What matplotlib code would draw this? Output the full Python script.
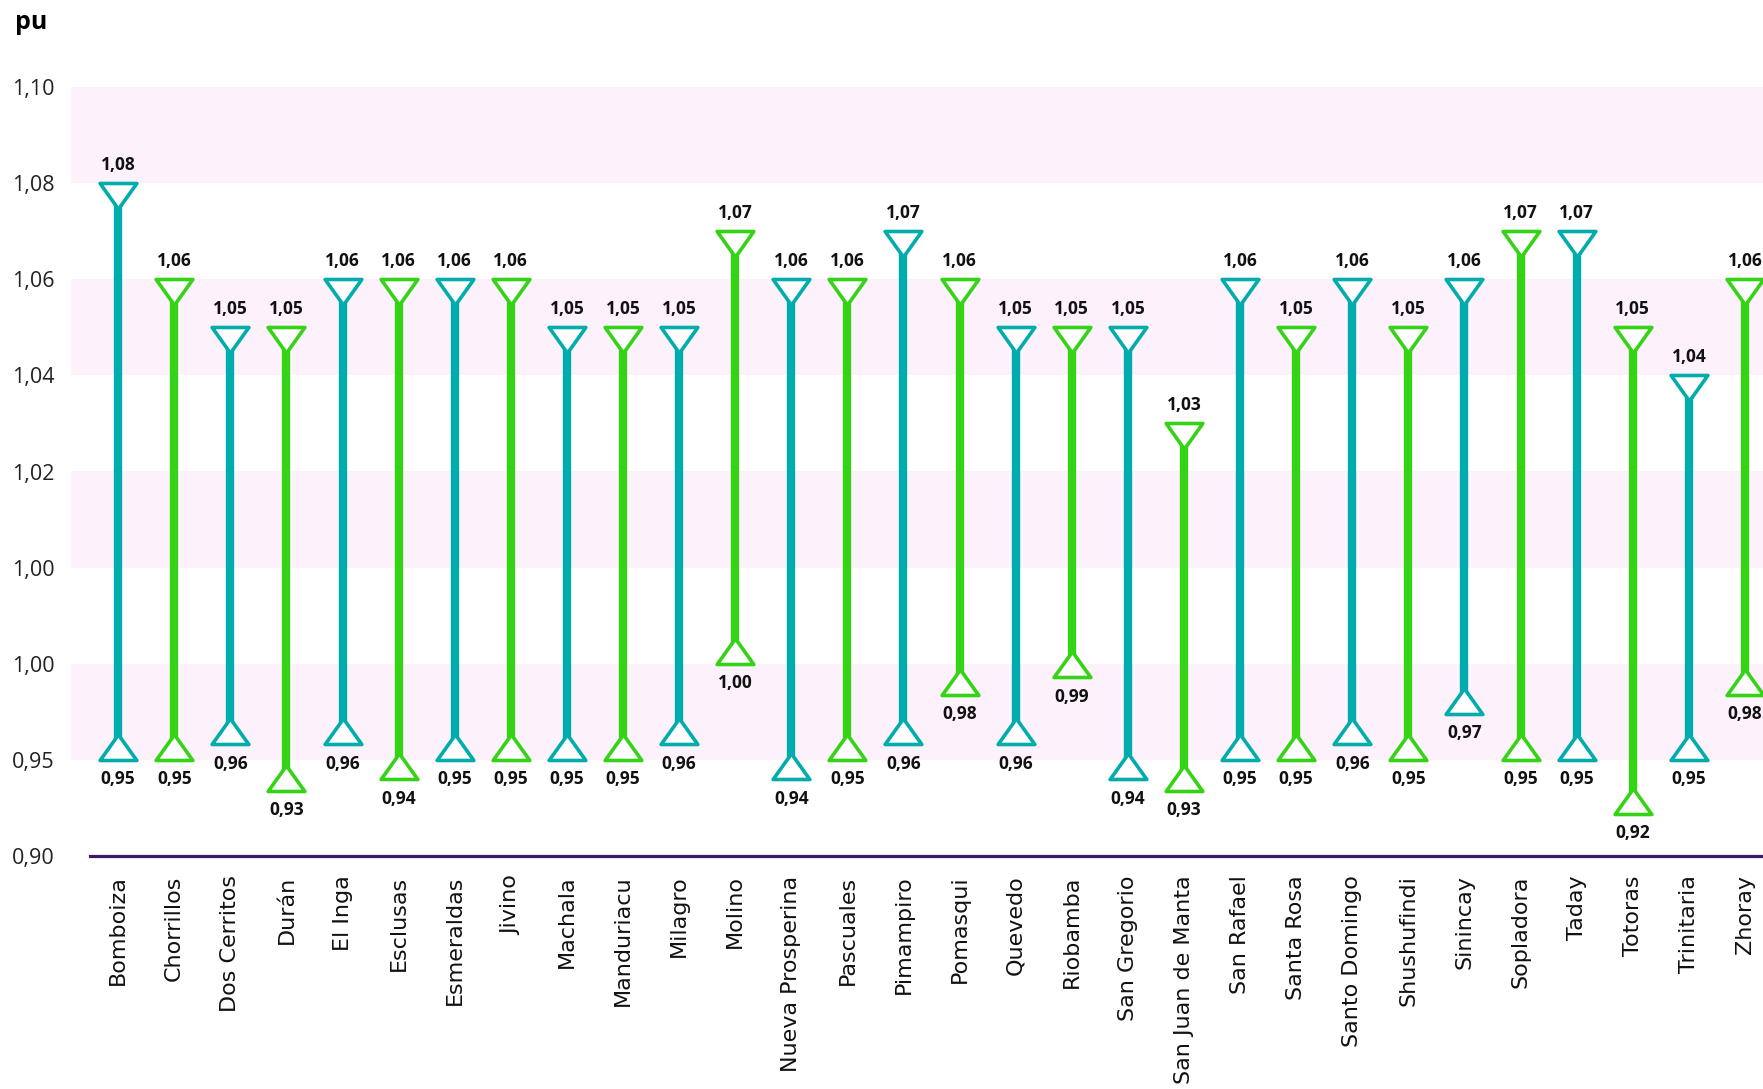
import numpy as np
import matplotlib
matplotlib.use('Agg')
import matplotlib.pyplot as plt
from matplotlib.path import Path
from matplotlib.ticker import FixedLocator, FuncFormatter

#================================================================================
# data
#================================================================================
stations = ['Bomboiza', 'Chorrillos', 'Dos Cerritos', 'Durán', 'El Inga', 'Esclusas',
            'Esmeraldas', 'Jivino', 'Machala', 'Manduriacu', 'Milagro', 'Molino',
            'Nueva Prosperina', 'Pascuales', 'Pimampiro', 'Pomasqui', 'Quevedo',
            'Riobamba', 'San Gregorio', 'San Juan de Manta', 'San Rafael', 'Santa Rosa',
            'Santo Domingo', 'Shushufindi', 'Sinincay', 'Sopladora', 'Taday', 'Totoras',
            'Trinitaria', 'Zhoray']

v_max = [1.08, 1.06, 1.05, 1.05, 1.06, 1.06, 1.06, 1.06, 1.05, 1.05, 1.05, 1.07,
         1.06, 1.06, 1.07, 1.06, 1.05, 1.05, 1.05, 1.03, 1.06, 1.05, 1.06, 1.05,
         1.06, 1.07, 1.07, 1.05, 1.04, 1.06]

v_min = [0.950, 0.950, 0.958, 0.934, 0.958, 0.940, 0.950, 0.950, 0.950, 0.950, 0.958, 1.000,
         0.940, 0.950, 0.958, 0.984, 0.958, 0.993, 0.940, 0.934, 0.950, 0.950, 0.958, 0.950,
         0.974, 0.950, 0.950, 0.922, 0.950, 0.984]

# axis is broken: 0.90-1.00 in steps of 0.05, then 1.00-1.10 in steps of 0.02
y_ticks = [0.90, 0.95, 1.00, 1.00001, 1.02, 1.04, 1.06, 1.08, 1.10]

teal = '#00ADAC'
green = '#34D315'
colors = [teal if i % 2 == 0 else green for i in range(len(stations))]


def fwd(v):
    v = np.asarray(v, dtype=float)
    return np.where(v <= 1.000001, (v - 0.90) / 0.05, 3 + (v - 1.00) / 0.02)


def inv(t):
    t = np.asarray(t, dtype=float)
    return np.where(t <= 2.5, 0.90 + 0.05 * t, 1.00 + 0.02 * (t - 3))


def fmt(v):
    return f'{v:.2f}'.replace('.', ',')


#================================================================================
# plot
#================================================================================
fig = plt.figure(figsize=(17.63, 10.8901), dpi=100)
ax = fig.add_axes([71 / 1763, 233 / 1089, 1702 / 1763, 769 / 1089])
ax.set_yscale('function', functions=(fwd, inv))
ax.set_ylim(0.90, 1.10)
ax.set_xlim(-0.84, len(stations) - 0.5)

# pink bands
for lo, hi in [(0.95, 1.00), (1.00001, 1.02), (1.04, 1.06), (1.08, 1.10)]:
    ax.axhspan(lo, hi, color='#FDF1FC', lw=0, zorder=0)

x = np.arange(len(stations))
ax.vlines(x, v_min, v_max, colors=colors, lw=6, zorder=2)

down_tri = Path([(-1, 0), (1, 0), (0, -1.4), (-1, 0)], closed=True)
up_tri = Path([(-1, 0), (1, 0), (0, 1.4), (-1, 0)], closed=True)

for xi, lo, hi, c in zip(x, v_min, v_max, colors):
    ax.plot(xi, hi, marker=down_tri, ms=37, mfc='white', mec=c, mew=2.6, zorder=3)
    ax.plot(xi, lo, marker=up_tri, ms=37, mfc='white', mec=c, mew=2.6, zorder=3)
    ax.annotate(fmt(hi), (xi, hi), xytext=(0, 13), textcoords='offset points',
                ha='center', va='center', fontsize=12.5, fontweight='bold',
                family='Open Sans', color='#111111')
    ax.annotate(fmt(lo), (xi, lo), xytext=(0, -14), textcoords='offset points',
                ha='center', va='center', fontsize=12.5, fontweight='bold',
                family='Open Sans', color='#111111')

ax.yaxis.set_major_locator(FixedLocator(y_ticks))
ax.yaxis.set_major_formatter(FuncFormatter(lambda v, p: fmt(v)))
ax.yaxis.set_minor_locator(FixedLocator([]))
ax.tick_params(axis='y', length=0, pad=12, labelsize=15.5, labelcolor='#222222')
for lab in ax.get_yticklabels():
    lab.set_family('Open Sans')

ax.set_xticks(x)
ax.set_xticklabels(stations, rotation=90, fontsize=16, family='DejaVu Sans', va='top')
ax.tick_params(axis='x', length=0, pad=14, labelcolor='#111111')

for s in ['top', 'right', 'left']:
    ax.spines[s].set_visible(False)
ax.spines['bottom'].set_color('#3B1766')
ax.spines['bottom'].set_linewidth(2.3)
ax.spines['bottom'].set_bounds(-0.5, len(stations) - 0.5)

fig.text(15 / 1763, 1 - 22 / 1089, 'pu', fontsize=18, fontweight='bold',
         family='Open Sans', va='center', ha='left')

plt.savefig('out.png', dpi=100)
